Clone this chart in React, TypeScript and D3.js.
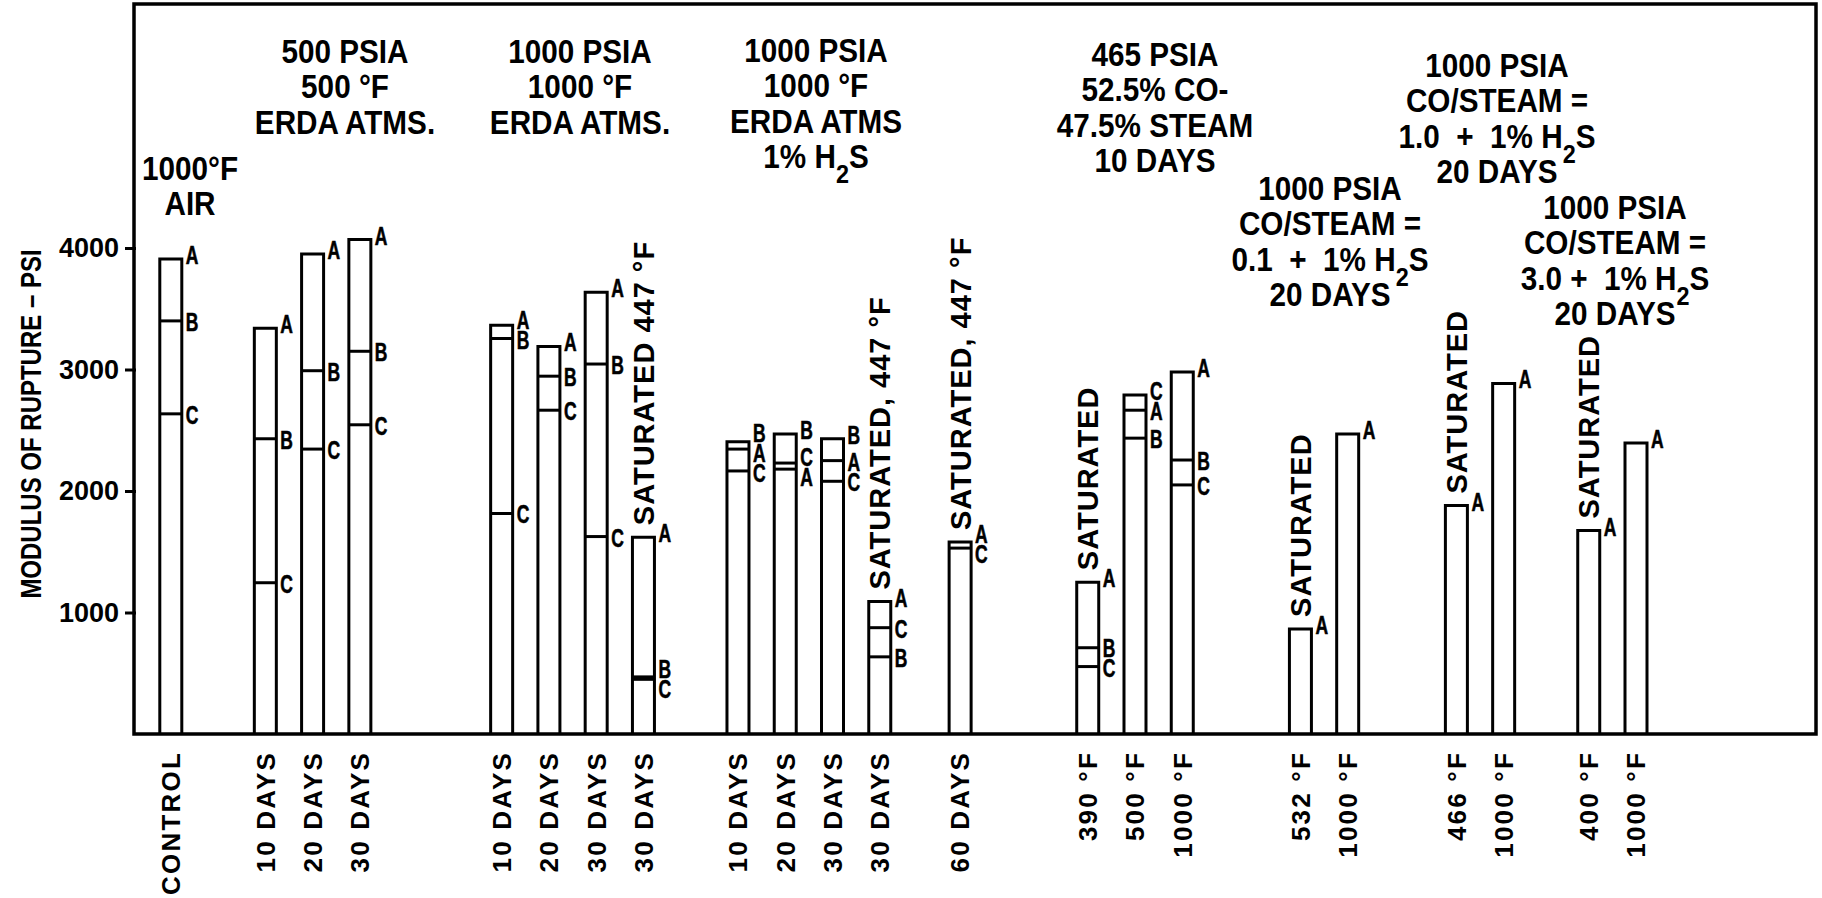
import React, { useEffect, useRef } from 'react';
import * as d3 from 'd3';

// bars from left to right
const categories = ['CONTROL', '10 DAYS', '20 DAYS', '30 DAYS', '10 DAYS', '20 DAYS', '30 DAYS', '30 DAYS', '10 DAYS', '20 DAYS', '30 DAYS', '30 DAYS', '60 DAYS', '390 °F', '500 °F', '1000 °F', '532 °F', '1000 °F', '466 °F', '1000 °F', '400 °F', '1000 °F'];
const groupIndex = [0, 1, 1, 1, 2, 2, 2, 2, 3, 3, 3, 3, 4, 5, 5, 5, 6, 6, 7, 7, 8, 8];
// modulus of rupture (psi) for specimens A, B, C
const valuesA = [3910, 3340, 3950, 4070, 3365, 3190, 3635, 1620, 2345, 2180, 2250, 1090, 1580, 1250, 2665, 2980, 865, 2470, 1880, 2885, 1675, 2395];
const valuesB = [3400, 2430, 2990, 3150, 3255, 2945, 3045, 470, 2405, 2470, 2430, 635, null, 710, 2435, 2255, null, null, null, null, null, null];
const valuesC = [2635, 1245, 2345, 2545, 1815, 2665, 1625, 450, 2165, 2230, 2080, 875, 1530, 555, 2790, 2050, null, null, null, null, null, null];
const barNotes = ['', '', '', '', '', '', '', 'SATURATED 447 °F', '', '', '', 'SATURATED, 447 °F', 'SATURATED, 447 °F', 'SATURATED', '', '', 'SATURATED', '', 'SATURATED', '', 'SATURATED', ''];

const groupTitles = [
  ['1000°F', 'AIR'],
  ['500 PSIA', '500 °F', 'ERDA ATMS.'],
  ['1000 PSIA', '1000 °F', 'ERDA ATMS.'],
  ['1000 PSIA', '1000 °F', 'ERDA ATMS', '1% H_2S'],
  [],
  ['465 PSIA', '52.5% CO-', '47.5% STEAM', '10 DAYS'],
  ['1000 PSIA', 'CO/STEAM =', '0.1  +  1% H_2S', '20 DAYS'],
  ['1000 PSIA', 'CO/STEAM =', '1.0  +  1% H_2S', '20 DAYS'],
  ['1000 PSIA', 'CO/STEAM =', '3.0 +  1% H_2S', '20 DAYS'],
];
const yTicks = [1000, 2000, 3000, 4000];
const yTitle = 'MODULUS OF RUPTURE – PSI';

// layout
const W = 1822;
const H = 898;
const frame = { left: 134, top: 4, right: 1816, bottom: 734 };
const groupStep = [0, 2, 3, 2, 1.7, 2.7, 2.5, 2.3, 1.8];
const titleAnchor = [[190, 180], [345, 63], [580, 63], [816, 62], [0, 0], [1155, 66], [1330, 200], [1497, 77], [1615, 219]];
const lineGap = 35.5;
const barW = 22;
const FONT = '"Liberation Sans", Arial, sans-serif';

function spread(ys: number[], gap: number) {
  const p = ys.slice();
  for (let it = 0; it < 60; it++) {
    for (let i = 1; i < p.length; i++) {
      const d = p[i] - p[i - 1];
      if (d < gap) {
        const m = (gap - d) / 2;
        p[i - 1] -= m;
        p[i] += m;
      }
    }
  }
  return p;
}

function App() {
  const svgRef = useRef<SVGSVGElement>(null);

  useEffect(() => {
    document.body.style.margin = '0';
    const svg = d3.select(svgRef.current);
    svg.selectAll('*').remove();

    // slot positions, with wider gaps between test groups
    let s = 0;
    const slots = categories.map((_, i) => {
      if (i > 0) s += groupIndex[i] !== groupIndex[i - 1] ? groupStep[groupIndex[i]] : 1;
      return s;
    });
    const x = d3.scaleLinear().domain([0, 31]).range([170.8, 1636]);
    const y = d3.scaleLinear().domain([0, 4000]).range([frame.bottom, 248]);

    svg.append('rect').attr('width', W).attr('height', H).attr('fill', '#fff');

    // frame
    svg.append('rect')
      .attr('x', frame.left).attr('y', frame.top)
      .attr('width', frame.right - frame.left).attr('height', frame.bottom - frame.top)
      .attr('fill', 'none').attr('stroke', '#000').attr('stroke-width', 3.5);

    // y axis
    const yAxis = svg.append('g')
      .attr('transform', `translate(${frame.left + 2},0)`)
      .call(d3.axisLeft(y).tickValues(yTicks).tickSize(11).tickPadding(6).tickFormat(d3.format('d')));
    yAxis.select('.domain').remove();
    yAxis.selectAll('line').attr('stroke', '#000').attr('stroke-width', 3);
    yAxis.selectAll('text')
      .attr('font-family', FONT).attr('font-weight', 'bold').attr('font-size', 27).attr('fill', '#000');

    svg.append('text')
      .attr('transform', `translate(30,${424}) rotate(-90) scale(0.8,1)`)
      .attr('text-anchor', 'middle').attr('dy', '0.35em')
      .attr('font-family', FONT).attr('font-weight', 'bold').attr('font-size', 30)
      .text(yTitle);

    // bars
    categories.forEach((cat, i) => {
      const cx = x(slots[i]);
      const x0 = cx - barW / 2;
      const x1 = cx + barW / 2;
      const entries = [['A', valuesA[i]], ['B', valuesB[i]], ['C', valuesC[i]]]
        .filter(e => e[1] != null) as [string, number][];
      const top = d3.max(entries, e => e[1]) as number;
      const g = svg.append('g');

      g.append('path')
        .attr('d', `M${x0},${y(0)}V${y(top)}H${x1}V${y(0)}`)
        .attr('fill', 'none').attr('stroke', '#000').attr('stroke-width', 3);

      entries.filter(e => e[1] !== top).forEach(e => {
        g.append('line')
          .attr('x1', x0).attr('x2', x1).attr('y1', y(e[1])).attr('y2', y(e[1]))
          .attr('stroke', '#000').attr('stroke-width', 3);
      });

      // specimen letters, pushed apart where they would collide
      const sorted = entries.slice().sort((a, b) => b[1] - a[1]);
      const ly = spread(sorted.map((e, k) => y(e[1]) + (k === 0 ? -4 : 1)), 20);
      sorted.forEach((e, k) => {
        g.append('text')
          .attr('transform', `translate(${x1 + 4},${ly[k]}) scale(0.7,1)`)
          .attr('dy', '0.36em')
          .attr('font-family', FONT).attr('font-weight', 'bold').attr('font-size', 25)
          .attr('stroke', '#000').attr('stroke-width', 0.6)
          .text(e[0]);
      });

      if (barNotes[i]) {
        g.append('text')
          .attr('transform', `translate(${cx},${y(top) - 12}) rotate(-90)`)
          .attr('dy', '0.36em')
          .attr('font-family', FONT).attr('font-weight', 'bold').attr('font-size', 29)
          .attr('letter-spacing', 1)
          .text(barNotes[i]);
      }

      // category label
      g.append('text')
        .attr('transform', `translate(${cx},${frame.bottom + 17}) rotate(-90)`)
        .attr('text-anchor', 'end').attr('dy', '0.36em')
        .attr('font-family', FONT).attr('font-weight', 'bold').attr('font-size', 26)
        .attr('letter-spacing', 2.2)
        .text(cat);
    });

    // test condition headings
    groupTitles.forEach((lines, gi) => {
      const [tx, ty] = titleAnchor[gi];
      const tg = svg.append('g').attr('transform', `translate(${tx},${ty}) scale(0.9,1)`);
      lines.forEach((line, li) => {
        const t = tg.append('text')
          .attr('x', 0).attr('y', li * lineGap)
          .attr('text-anchor', 'middle')
          .attr('font-family', FONT).attr('font-weight', 'bold').attr('font-size', 33)
          .style('white-space', 'pre');
        const parts = line.split('_2');
        t.append('tspan').text(parts[0]);
        if (parts.length > 1) {
          t.append('tspan').attr('dy', 15).attr('font-size', 26).text('2');
          t.append('tspan').attr('dy', -15).text(parts[1]);
        }
      });
    });
  }, []);

  return (
    <svg ref={svgRef} width={W} height={H} style={{ display: 'block' }}></svg>
  );
}

export default App;
